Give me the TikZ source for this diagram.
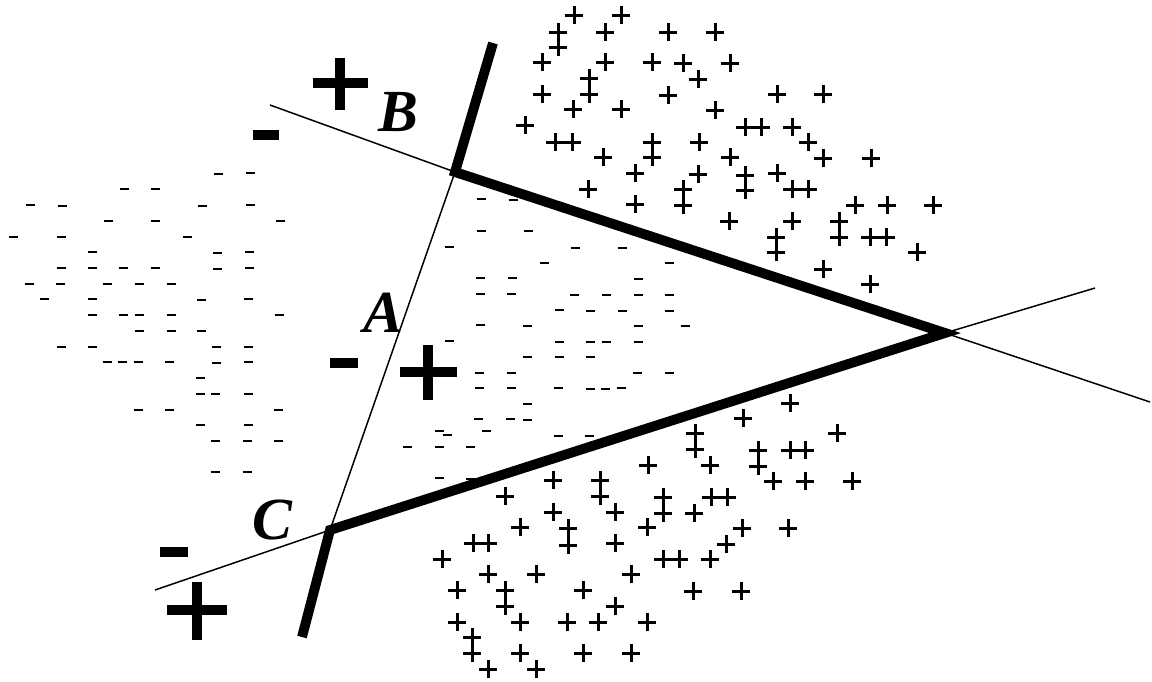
\documentclass[tikz,border=0pt]{standalone}
\usepackage{fontspec}
\setmainfont{Liberation Serif}
\begin{document}
\begin{tikzpicture}[
    x=0.02cm, y=-0.02cm,
    cutline/.style={line width=0.85pt, black},
    hull/.style={line width=5.6pt, black, line join=miter},
    pmark/.style={line width=1.7pt, black},
    mmark/.style={line width=1.5pt, black},
    bigmark/.style={line width=5.6pt, black},
    lbl/.style={font=\fontsize{34}{34}\selectfont\bfseries\itshape, inner sep=0pt},
]
\fill[white] (0,0) rectangle (1152,681);
\useasboundingbox (0,0) rectangle (1152,681);

% Corners
\coordinate (pB) at (455,172);
\coordinate (pC) at (330,530);
\coordinate (apex) at (945,333);
\coordinate (bEnd) at (270,105);
\coordinate (bFar) at (1150,402);
\coordinate (cEnd) at (155,590);
\coordinate (cFar) at (1095,288);
\coordinate (aTop) at (493,43);
\coordinate (aBot) at (302,637);

% Thin lines
\draw[cutline] (bEnd) -- (pB) -- (apex) -- (bFar);
\draw[cutline] (cEnd) -- (pC) -- (apex) -- (cFar);
\draw[cutline] (pB) -- (pC);

% Thick boundary
\draw[hull] (aTop) -- (pB) -- (apex) -- (pC) -- (aBot);

% Labels
\node[lbl] (labB) at (398,112) {B};
\node[lbl] (labA) at (383,313) {A};
\node[lbl] (labC) at (272,520) {C};

% Big signs
\draw[bigmark] (313,83) -- (368,83) (340,58) -- (340,110);
\draw[bigmark] (400,372) -- (457,372) (428,345) -- (428,400);
\draw[bigmark] (167,610) -- (227,610) (197,582) -- (197,640);
\draw[bigmark] (253,135) -- (279,135);
\draw[bigmark] (330,363) -- (358,363);
\draw[bigmark] (160,552) -- (188,552);

% Plus points, top
\foreach \x/\y in {574/15, 621/15, 558/32, 605/32, 668/32, 715/32, 558/47,
    542/62, 605/62, 652/62, 683/63, 730/63, 589/78, 698/79,
    542/94, 589/94, 668/95, 777/94, 823/94, 573/109, 621/109, 715/110,
    525/125, 745/127, 761/127, 792/127, 555/142, 572/142, 652/142, 699/142, 808/142,
    603/157, 652/157, 730/157, 823/158, 871/158, 635/173, 698/174, 745/175, 777/173,
    588/189, 683/189, 745/190, 792/189, 808/189, 635/204, 683/205, 855/205, 887/205, 933/205,
    729/221, 792/221, 839/221, 776/237, 839/237, 870/237, 886/237,
    776/252, 917/252, 823/269, 870/284}
  \draw[pmark] (\x,\y) +(-9,0) -- +(9,0) +(0,-9) -- +(0,9);

% Plus points, bottom
\foreach \x/\y in {790/403, 743/418, 695/433, 837/433, 695/449, 758/450, 790/450, 805/450,
    648/465, 710/465, 758/466, 553/480, 600/480, 773/481, 805/481, 852/481,
    505/496, 600/496, 663/497, 711/497, 727/497, 553/512, 615/512, 663/513, 694/513,
    520/527, 568/528, 647/527, 742/528, 788/528, 473/543, 488/543, 568/545, 615/543, 726/544,
    442/559, 663/559, 679/559, 710/559, 488/574, 536/574, 631/574,
    457/590, 505/590, 583/590, 693/591, 741/591, 505/606, 615/606,
    457/622, 520/622, 567/622, 598/622, 647/622, 472/637,
    472/653, 520/653, 583/653, 631/653, 488/669, 536/669}
  \draw[pmark] (\x,\y) +(-9,0) -- +(9,0) +(0,-9) -- +(0,9);

% Minus points, left
\foreach \x/\y in {218/174, 250/173, 124/189, 155/189, 30/205, 62/206, 202/206, 250/205,
    108/221, 155/221, 280/221, 13/237, 61/237, 187/237, 92/252, 217/253, 249/252,
    61/268, 92/268, 123/268, 155/268, 217/269, 249/268, 29/284, 60/284, 107/284, 139/284, 171/284,
    44/299, 92/299, 201/300, 248/299, 92/315, 123/315, 139/315, 171/315, 279/315,
    139/331, 171/331, 201/331, 61/347, 92/347, 216/347, 248/347,
    107/362, 122/362, 138/362, 169/362, 216/363, 248/362, 200/378,
    200/394, 215/394, 248/394, 138/410, 169/410, 278/410, 200/425, 248/425,
    215/441, 247/441, 278/441, 215/472, 247/472}
  \draw[mmark] (\x,\y) +(-4.5,0) -- +(4.5,0);

% Minus points, middle
\foreach \x/\y in {481/199, 513/200, 481/231, 528/231, 449/247, 575/248, 622/248,
    544/263, 669/263, 480/278, 512/278, 638/279,
    480/294, 511/294, 574/295, 606/295, 638/295, 669/295,
    559/310, 590/311, 622/311, 669/311, 480/325, 527/326, 638/326, 685/326,
    449/341, 559/342, 590/342, 606/342, 638/342, 527/357, 559/357, 590/357,
    479/373, 511/373, 637/373, 669/373, 479/388, 511/388, 558/388, 590/389, 605/389, 621/388,
    527/404, 478/419, 510/419, 527/420, 439/431, 447/435, 486/431, 558/436, 589/436,
    407/447, 439/447, 470/447, 439/478, 470/479}
  \draw[mmark] (\x,\y) +(-4.5,0) -- +(4.5,0);
\end{tikzpicture}
\end{document}
